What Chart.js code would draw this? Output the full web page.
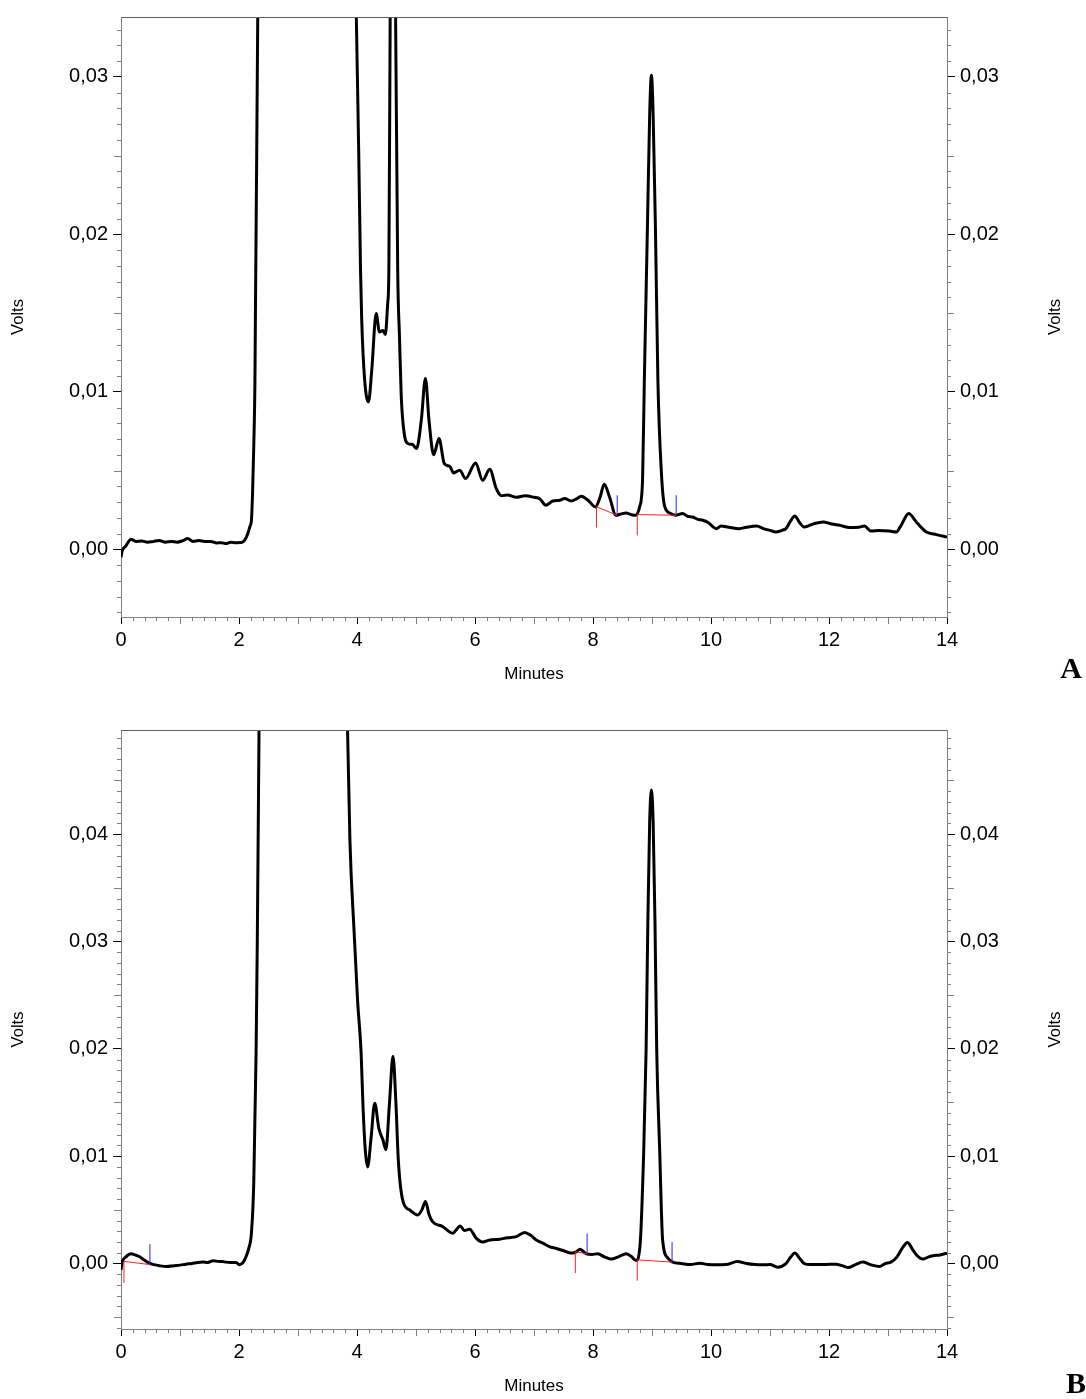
<!DOCTYPE html>
<html>
<head>
<meta charset="utf-8">
<script src="https://cdn.jsdelivr.net/npm/chart.js@4.4.1/dist/chart.umd.min.js"></script>
<style>
  html, body { margin: 0; padding: 0; background: #fff; }
  #wrap { position: relative; width: 1086px; height: 1399px; overflow: hidden; }
  canvas { position: absolute; left: 0; }
  #cA { top: 0; }
  #cB { top: 700px; }
</style>
</head>
<body>
<div id="wrap">
  <canvas id="cA" width="1086" height="700"></canvas>
  <canvas id="cB" width="1086" height="699"></canvas>
</div>
<script>
// ---------- Panel A data (minutes, volts) ----------
const timeA = [0, 0.02, 0.08, 0.17, 0.25, 0.35, 0.45, 0.55, 0.65, 0.75, 0.85, 0.95, 1.05, 1.13, 1.22, 1.32, 1.42, 1.52, 1.62, 1.70, 1.78, 1.86, 1.95, 2.04, 2.10, 2.15, 2.19, 2.21, 2.23, 2.25, 2.27, 2.28, 2.30, 2.32, 2.40, 3.10, 3.90, 3.99, 4.03, 4.06, 4.08, 4.13, 4.195, 4.25, 4.325, 4.38, 4.44, 4.48, 4.52, 4.54, 4.565, 4.605, 4.65, 4.69, 4.72, 4.75, 4.80, 4.87, 4.94, 5.01, 5.09, 5.16, 5.22, 5.30, 5.39, 5.48, 5.57, 5.64, 5.74, 5.84, 6.01, 6.13, 6.25, 6.36, 6.45, 6.55, 6.70, 6.85, 7.00, 7.10, 7.20, 7.32, 7.42, 7.52, 7.63, 7.72, 7.80, 7.92, 8.04, 8.12, 8.19, 8.28, 8.39, 8.48, 8.56, 8.65, 8.72, 8.79, 8.84, 8.87, 8.92, 8.96, 8.99, 9.02, 9.06, 9.10, 9.16, 9.21, 9.30, 9.40, 9.52, 9.60, 9.69, 9.78, 9.86, 9.95, 10.09, 10.17, 10.30, 10.48, 10.60, 10.77, 10.90, 11.00, 11.10, 11.20, 11.27, 11.35, 11.42, 11.50, 11.58, 11.66, 11.75, 11.90, 12.05, 12.18, 12.35, 12.50, 12.60, 12.71, 12.85, 13.02, 13.14, 13.22, 13.35, 13.48, 13.56, 13.65, 13.82, 14.0];
const voltsA = [-0.0005, -0.0001, 0.0002, 0.00064, 0.0005, 0.00052, 0.00045, 0.0005, 0.00055, 0.00045, 0.0005, 0.00045, 0.00055, 0.00068, 0.0005, 0.00055, 0.0005, 0.0005, 0.0004, 0.00042, 0.00036, 0.00045, 0.00042, 0.00043, 0.0006, 0.001, 0.0015, 0.0018, 0.0036, 0.0065, 0.0107, 0.0158, 0.025, 0.035, 0.08, 0.25, 0.05, 0.0335, 0.025, 0.0177, 0.01455, 0.01074, 0.00936, 0.01137, 0.01497, 0.0138, 0.0139, 0.01364, 0.0156, 0.0177, 0.036, 0.06, 0.036, 0.0177, 0.0135, 0.0097, 0.00735, 0.0067, 0.00665, 0.0064, 0.0082, 0.01085, 0.0082, 0.006, 0.00703, 0.00544, 0.00527, 0.00485, 0.00502, 0.00449, 0.00548, 0.00438, 0.00508, 0.00386, 0.0034, 0.00345, 0.0033, 0.0034, 0.0033, 0.0032, 0.0028, 0.00307, 0.0031, 0.00322, 0.00307, 0.0032, 0.00337, 0.0031, 0.00269, 0.0033, 0.00413, 0.00332, 0.00216, 0.00225, 0.0023, 0.0022, 0.00216, 0.00269, 0.0044, 0.0107, 0.02, 0.0275, 0.0301, 0.0275, 0.02, 0.0107, 0.0048, 0.0028, 0.0023, 0.00216, 0.00227, 0.0021, 0.00205, 0.0019, 0.00184, 0.0017, 0.00131, 0.00148, 0.0014, 0.00131, 0.0014, 0.00148, 0.0013, 0.0012, 0.0011, 0.0012, 0.00131, 0.0018, 0.00212, 0.0017, 0.00142, 0.0015, 0.00163, 0.00174, 0.0016, 0.00152, 0.00138, 0.0014, 0.00148, 0.00116, 0.0012, 0.00116, 0.0011, 0.0015, 0.00227, 0.00174, 0.0014, 0.0011, 0.00093, 0.00078];

// Panel A integration marks
const dropA_t  = [8.06, 8.75];
const dropA_hi = [0.0027, 0.0022];
const dropA_lo = [0.00138, 0.00089];
const endA_t   = [8.41, 9.41];
const endA_lo  = [0.00216, 0.00216];
const endA_hi  = [0.00343, 0.00343];

// ---------- Panel B data ----------
const timeB = [0, 0.02, 0.08, 0.17, 0.24, 0.31, 0.40, 0.48, 0.56, 0.65, 0.77, 0.90, 1.00, 1.10, 1.20, 1.30, 1.39, 1.47, 1.56, 1.65, 1.72, 1.78, 1.86, 1.95, 2.01, 2.07, 2.12, 2.17, 2.21, 2.25, 2.27, 2.29, 2.31, 2.34, 2.42, 3.10, 3.70, 3.80, 3.84, 3.88, 3.95, 4.01, 4.07, 4.10, 4.14, 4.18, 4.24, 4.30, 4.37, 4.44, 4.49, 4.55, 4.61, 4.66, 4.70, 4.78, 4.89, 5.03, 5.10, 5.16, 5.22, 5.28, 5.45, 5.62, 5.75, 5.82, 5.91, 6.02, 6.13, 6.25, 6.42, 6.55, 6.70, 6.84, 6.95, 7.04, 7.15, 7.26, 7.38, 7.49, 7.60, 7.66, 7.72, 7.78, 7.84, 7.89, 7.98, 8.08, 8.20, 8.31, 8.42, 8.50, 8.56, 8.64, 8.73, 8.80, 8.86, 8.90, 8.93, 8.96, 8.99, 9.02, 9.05, 9.08, 9.13, 9.18, 9.27, 9.35, 9.50, 9.65, 9.81, 9.95, 10.09, 10.25, 10.45, 10.60, 10.75, 10.88, 11.00, 11.13, 11.27, 11.35, 11.42, 11.50, 11.58, 11.68, 11.78, 11.95, 12.12, 12.22, 12.32, 12.45, 12.57, 12.70, 12.86, 12.95, 13.05, 13.15, 13.25, 13.33, 13.42, 13.50, 13.59, 13.68, 13.76, 13.88, 14.0];
const voltsB = [-0.0006, 0.00013, 0.0006, 0.0009, 0.0008, 0.00065, 0.0003, 0.00003, -0.0001, -0.0002, -0.00028, -0.0002, -0.00015, -0.00006, 0.0, 0.0001, 0.00013, 0.0001, 0.00025, 0.0002, 0.00018, 0.00013, 0.0001, 0.0001, -0.00012, 0.0001, 0.00065, 0.0015, 0.0028, 0.0075, 0.0137, 0.0198, 0.03, 0.05, 0.1, 0.3, 0.08, 0.056, 0.0497, 0.0394, 0.031, 0.0245, 0.0196, 0.0149, 0.0106, 0.0090, 0.0118, 0.01494, 0.0126, 0.0115, 0.0106, 0.0149, 0.0193, 0.0149, 0.00966, 0.00578, 0.0050, 0.00453, 0.005, 0.00578, 0.0046, 0.0039, 0.00345, 0.00283, 0.0035, 0.00307, 0.0032, 0.00236, 0.002, 0.0022, 0.00227, 0.0024, 0.0025, 0.0029, 0.0026, 0.0022, 0.0019, 0.00158, 0.0014, 0.00121, 0.001, 0.00097, 0.0011, 0.00134, 0.0011, 0.0009, 0.00085, 0.0009, 0.0006, 0.00041, 0.0006, 0.0008, 0.0009, 0.0007, 0.00028, 0.0019, 0.0106, 0.0199, 0.032, 0.041, 0.0441, 0.041, 0.032, 0.0199, 0.0106, 0.0022, 0.0005, 0.00013, 0.0, -0.0001, 0.00003, -0.0001, -0.00012, -0.0001, 0.00019, 0.0, -0.0001, -0.00012, -0.0001, -0.00034, 0.0, 0.0006, 0.00097, 0.0005, 0.0, -0.0001, -0.0001, -0.00008, -0.00006, -0.0002, -0.00037, -0.0001, 0.00013, -0.0001, -0.00028, 0.0, 0.00013, 0.0006, 0.0015, 0.00196, 0.00128, 0.0007, 0.00041, 0.0006, 0.00072, 0.0008, 0.00097];

// Panel B integration marks
const dropB_t  = [0.05, 7.70, 8.75];
const dropB_hi = [0.0002, 0.0011, 0.00034];
const dropB_lo = [-0.0018, -0.0009, -0.0016];
const endB_t   = [0.49, 7.90, 9.34];
const endB_lo  = [-0.0001, 0.0009, 0.00013];
const endB_hi  = [0.0018, 0.0028, 0.002];

// ---------- Axes ----------
const xMin = 0, xMax = 14;
const xTickLabels = [0, 2, 4, 6, 8, 10, 12, 14];
const yMinA = -0.0043, yMaxA = 0.0338;
const yTicksA = [0.00, 0.01, 0.02, 0.03];
const yMinB = -0.0061, yMaxB = 0.0497;
const yTicksB = [0.00, 0.01, 0.02, 0.03, 0.04];
const xTitle = 'Minutes';
const yTitle = 'Volts';

const FONT = '"Liberation Sans", Arial, Helvetica, sans-serif';

function toPoints(ts, vs) { return ts.map((t, i) => ({ x: t, y: vs[i] })); }
function redPath(dt, dhi, dlo, et, elo) {
  const pts = [];
  dt.forEach((t, i) => {
    pts.push({ x: t, y: dlo[i] }, { x: t, y: dhi[i] }, { x: et[i], y: elo[i] }, { x: et[i], y: null });
  });
  return pts;
}
function bluePath(et, elo, ehi) {
  const pts = [];
  et.forEach((t, i) => { pts.push({ x: t, y: elo[i] }, { x: t, y: ehi[i] }, { x: t, y: null }); });
  return pts;
}

const minorTicks = {
  id: 'minorTicks',
  afterDraw(chart, args, o) {
    const ctx = chart.ctx, a = chart.chartArea;
    ctx.save();
    ctx.lineWidth = 1;
    ctx.strokeStyle = '#808080';
    const xs = chart.scales.x;
    const kx0 = Math.ceil(xs.min / o.xMinor - 1e-9), kx1 = Math.floor(xs.max / o.xMinor + 1e-9);
    const xMedN = Math.round(o.xMed / o.xMinor), xMajN = Math.round(o.xMajor / o.xMinor);
    for (let k = kx0; k <= kx1; k++) {
      if (k % xMajN === 0) continue;
      const len = (k % xMedN === 0) ? 7 : 4;
      const px = Math.round(xs.getPixelForValue(k * o.xMinor)) + 0.5;
      ctx.beginPath(); ctx.moveTo(px, a.bottom); ctx.lineTo(px, a.bottom + len); ctx.stroke();
    }
    const ys = chart.scales.y;
    const ky0 = Math.ceil(ys.min / o.yMinor - 1e-9), ky1 = Math.floor(ys.max / o.yMinor + 1e-9);
    const yMedN = Math.round(o.yMed / o.yMinor), yMajN = Math.round(o.yMajor / o.yMinor);
    for (let k = ky0; k <= ky1; k++) {
      if (k % yMajN === 0) continue;
      const len = (k % yMedN === 0) ? 7 : 4;
      const py = Math.round(ys.getPixelForValue(k * o.yMinor)) + 0.5;
      ctx.beginPath(); ctx.moveTo(a.left, py); ctx.lineTo(a.left - len, py); ctx.stroke();
      ctx.beginPath(); ctx.moveTo(a.right, py); ctx.lineTo(a.right + len, py); ctx.stroke();
    }
    // top frame line
    ctx.strokeStyle = '#606060';
    ctx.beginPath(); ctx.moveTo(a.left, Math.round(a.top) + 0.5); ctx.lineTo(a.right, Math.round(a.top) + 0.5); ctx.stroke();
    ctx.restore();
  }
};

const panelText = {
  id: 'panelText',
  afterDraw(chart, args, o) {
    const ctx = chart.ctx, a = chart.chartArea;
    ctx.save();
    ctx.fillStyle = '#000';
    ctx.font = '16.5px ' + FONT;
    ctx.textAlign = 'center';
    ctx.textBaseline = 'middle';
    ctx.translate(o.rightTitleX, (a.top + a.bottom) / 2);
    ctx.rotate(-Math.PI / 2);
    ctx.fillText(o.rightTitle, 0, 0);
    ctx.restore();
    ctx.save();
    ctx.fillStyle = '#000';
    ctx.font = 'bold 30px "Liberation Serif", "Times New Roman", serif';
    ctx.textAlign = 'center';
    ctx.textBaseline = 'alphabetic';
    ctx.fillText(o.letter, o.letterX, o.letterY);
    ctx.restore();
  }
};

function makeChart(id, cfg) {
  const yAxisCommon = {
    type: 'linear', min: cfg.yMin, max: cfg.yMax,
    afterBuildTicks: s => { s.ticks = cfg.yTicks.map(v => ({ value: v })); },
    grid: { drawOnChartArea: false, drawTicks: true, tickLength: 8, tickColor: '#000', tickWidth: 1 },
    border: { display: true, color: '#808080', width: 1 },
    ticks: { color: '#000', font: { family: FONT, size: 20 }, padding: 5, autoSkip: false,
             callback: v => v.toFixed(2).replace('.', ',') }
  };
  return new Chart(document.getElementById(id), {
    type: 'line',
    data: {
      datasets: [
        { data: redPath(cfg.dropT, cfg.dropHi, cfg.dropLo, cfg.endT, cfg.endLo), borderColor: '#ff2020', borderWidth: 1,
          pointRadius: 0, spanGaps: false, tension: 0, yAxisID: 'y' },
        { data: bluePath(cfg.endT, cfg.endLo, cfg.endHi), borderColor: '#2020ff', borderWidth: 1,
          pointRadius: 0, spanGaps: false, tension: 0, yAxisID: 'y' },
        { data: toPoints(cfg.t, cfg.v), borderColor: '#000', borderWidth: 3, pointRadius: 0,
          cubicInterpolationMode: 'monotone', yAxisID: 'y' }
      ]
    },
    options: {
      responsive: false, animation: false, devicePixelRatio: 1,
      layout: { padding: { top: cfg.padTop, left: 0, right: 0, bottom: 0 } },
      plugins: {
        legend: { display: false }, tooltip: { enabled: false },
        minorTicks: { xMinor: 0.2, xMed: 1, xMajor: 2, yMinor: 0.001, yMed: 0.005, yMajor: 0.01 },
        panelText: { rightTitle: yTitle, rightTitleX: 1055, letter: cfg.letter, letterX: cfg.letterX, letterY: cfg.letterY }
      },
      scales: {
        x: {
          type: 'linear', min: xMin, max: xMax,
          afterBuildTicks: s => { s.ticks = xTickLabels.map(v => ({ value: v })); },
          afterFit: s => { s.height = cfg.xHeight; },
          grid: { drawOnChartArea: false, drawTicks: true, tickLength: 7, tickColor: '#000', tickWidth: 1 },
          border: { display: true, color: '#808080', width: 1 },
          ticks: { color: '#000', font: { family: FONT, size: 20 }, padding: 4, autoSkip: false, maxRotation: 0,
                   callback: v => String(v) },
          title: { display: true, text: xTitle, color: '#000', font: { family: FONT, size: 17 },
                   padding: { top: 0, bottom: cfg.xTitlePad } }
        },
        y: Object.assign({}, yAxisCommon, {
          position: 'left',
          afterFit: s => { s.width = 121; },
          title: { display: true, text: yTitle, color: '#000', font: { family: FONT, size: 16.5 },
                   padding: { top: 8.5, bottom: 0 } }
        }),
        y2: Object.assign({}, yAxisCommon, {
          position: 'right',
          afterFit: s => { s.width = 139; }
        })
      }
    },
    plugins: [minorTicks, panelText]
  });
}

makeChart('cA', {
  t: timeA, v: voltsA, yMin: yMinA, yMax: yMaxA, yTicks: yTicksA,
  dropT: dropA_t, dropHi: dropA_hi, dropLo: dropA_lo, endT: endA_t, endLo: endA_lo, endHi: endA_hi,
  padTop: 16, xHeight: 83, xTitlePad: 15, letter: 'A', letterX: 1071, letterY: 678
});
makeChart('cB', {
  t: timeB, v: voltsB, yMin: yMinB, yMax: yMaxB, yTicks: yTicksB,
  dropT: dropB_t, dropHi: dropB_hi, dropLo: dropB_lo, endT: endB_t, endLo: endB_lo, endHi: endB_hi,
  padTop: 30, xHeight: 70, xTitlePad: 2, letter: 'B', letterX: 1076, letterY: 693
});
</script>
</body>
</html>
